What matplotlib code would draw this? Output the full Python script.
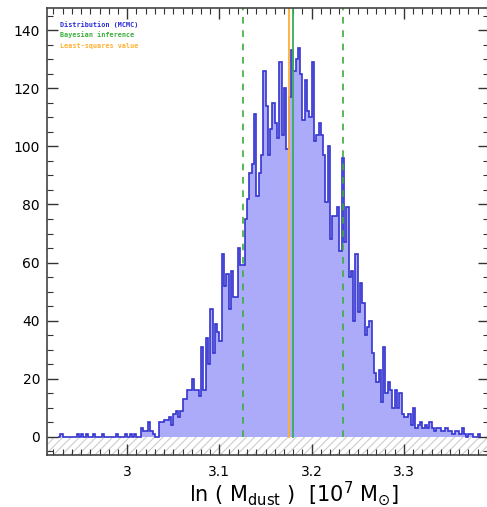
import matplotlib
matplotlib.use("Agg")
import matplotlib.pyplot as plt
import numpy as np

# histogram of ln(M_dust) MCMC samples
bin_start = 2.925
bin_width = 0.0025
counts = [
    # left tail
    0, 1, 0, 0, 0, 0, 0, 0, 1, 0, 1, 0, 1, 0, 0, 1, 0, 0, 0, 1,
    0, 0, 0, 0, 0, 1, 0, 0, 0, 1, 0,
    # rise
    1, 0, 1, 0, 0, 3, 2, 2, 5, 2, 1, 0, 0, 5, 5, 6, 6, 7, 4, 8,
    9, 7, 9, 13, 13, 16, 16, 20, 16, 16, 14, 31, 16, 34, 25, 44, 29, 39, 36, 33,
    63, 52, 56, 44, 57, 48, 48, 65, 59, 59, 75, 82,
    # peak
    91, 94, 111, 83, 91, 97, 126, 114, 97, 106, 115, 108, 103, 129, 104, 120,
    99, 117, 133, 126, 130, 134, 125, 109, 123, 112, 110, 129, 102, 104, 108, 104,
    # fall
    97, 81, 100, 68, 76, 76, 79, 64, 96, 67, 79, 55, 57, 40, 63, 43, 53, 46, 35, 38,
    40, 29, 22, 19, 23, 12, 31, 15, 19, 16, 10, 16, 10, 15,
    # right tail
    8, 7, 7, 8, 4, 10, 3, 4, 5, 3, 4, 3, 5, 3, 2, 3, 3, 2, 2, 3,
    2, 2, 1, 2, 2, 1, 3, 1, 0, 1, 1, 0, 0, 1,
]
counts = np.array(counts)
edges = bin_start + bin_width * np.arange(len(counts) + 1)

bayes_median = 3.1795
bayes_low = 3.1254
bayes_high = 3.2337
least_squares = 3.1755

legend_texts = ["Distribution (MCMC)", "Bayesian inference", "Least-squares value"]
legend_colors = ["#2a2ad8", "#3aae3a", "#ffb030"]

plt.rcParams["mathtext.fontset"] = "dejavusans"
plt.rcParams["hatch.color"] = "#cccccc"
plt.rcParams["hatch.linewidth"] = 0.8

fig = plt.figure(figsize=(4.87, 5.07), dpi=100)
ax = fig.add_axes([0.0965, 0.1026, 0.907, 0.8816])

xmin, xmax = 2.913, 3.392
ymin, ymax = -6.2, 147.6

# hatched strip below zero
ax.fill_between([xmin, xmax], ymin, 0, facecolor="white", edgecolor="#cccccc",
                hatch="////", linewidth=0)

# vertical markers (drawn under the translucent fill)
for xv in (bayes_low, bayes_high):
    ax.plot([xv, xv], [0, ymax], color="#3aae3a", ls=(0, (4, 4)), lw=1.2)
ax.plot([least_squares] * 2, [0, ymax], color="#ffb030", lw=1.3)
ax.plot([bayes_median] * 2, [0, ymax], color="#3aae5a", lw=1.3)

ax.stairs(counts, edges, fill=True, color="#0000f0", alpha=0.33, lw=0)
ax.stairs(counts, edges, color="#3535d0", lw=1.2)

ax.set_xlim(xmin, xmax)
ax.set_ylim(ymin, ymax)

ax.set_xticks([3.0, 3.1, 3.2, 3.3])
ax.set_xticklabels(["3", "3.1", "3.2", "3.3"])
ax.set_xticks(np.arange(2.92, 3.39, 0.01), minor=True)
ax.set_yticks(np.arange(0, 141, 20))
ax.set_yticks(np.arange(-5, 146, 5), minor=True)
ax.tick_params(which="both", direction="in", top=True, right=True,
               labelsize=10, color="#333333")
ax.tick_params(which="major", length=8, width=1)
ax.tick_params(which="minor", length=4, width=0.8)
ax.tick_params(axis="x", pad=7)
ax.tick_params(axis="y", pad=5)
for sp in ax.spines.values():
    sp.set_color("#444444")
    sp.set_linewidth(1.2)

ax.set_xlabel(r"ln ( M$_{\mathrm{dust}}$ )  [10$^{7}$ M$_{\odot}$]", fontsize=15,
              labelpad=3)
ax.xaxis.set_label_coords(0.56, -0.055)
ax.xaxis.label.set_va("top")

for i, (txt, col) in enumerate(zip(legend_texts, legend_colors)):
    ax.text(0.03, 0.964 - 0.024 * i, txt, transform=ax.transAxes, color=col,
            fontsize=4.9, fontweight="bold", family="DejaVu Sans Mono",
            va="center", ha="left")

fig.savefig("out.png", dpi=100)
